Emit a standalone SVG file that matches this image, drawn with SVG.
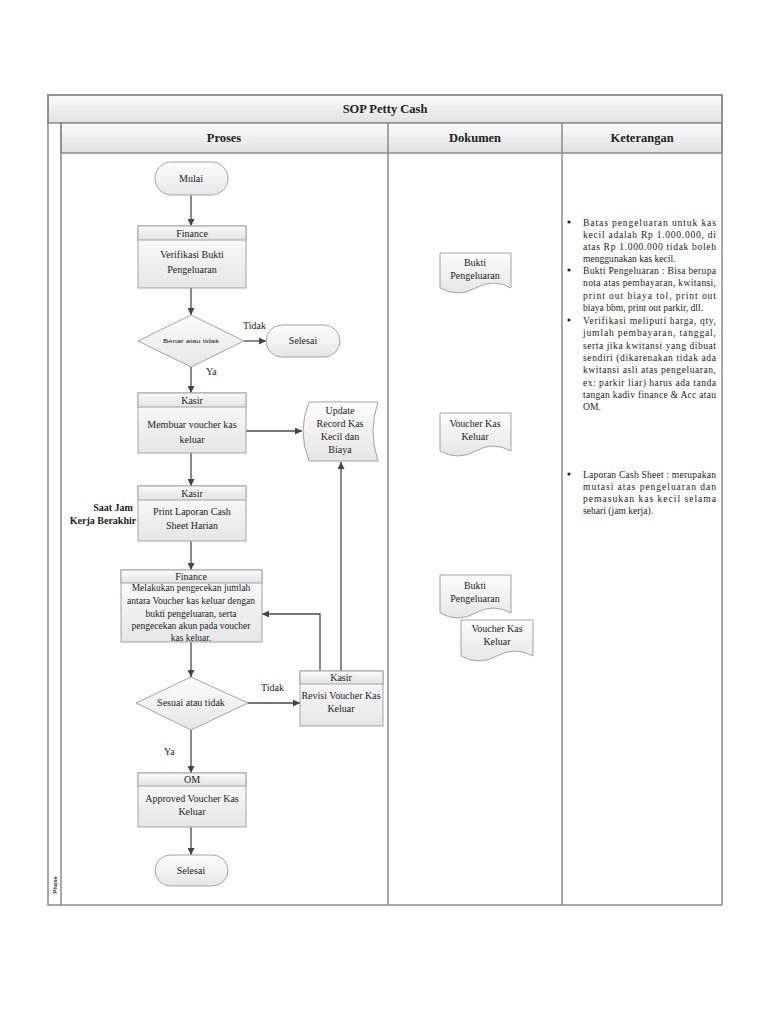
<svg xmlns="http://www.w3.org/2000/svg" width="768" height="1024" viewBox="0 0 768 1024">
<defs>
<linearGradient id="gBox" x1="0" y1="0" x2="0" y2="1"><stop offset="0" stop-color="#fdfdfd"/><stop offset="1" stop-color="#e6e6e6"/></linearGradient>
<linearGradient id="gHead" x1="0" y1="0" x2="0" y2="1"><stop offset="0" stop-color="#fafafa"/><stop offset="1" stop-color="#e4e4e4"/></linearGradient>
<linearGradient id="gBar" x1="0" y1="0" x2="0" y2="1"><stop offset="0" stop-color="#fbfbfb"/><stop offset="1" stop-color="#e2e2e2"/></linearGradient>
<marker id="arr" viewBox="0 0 10 10" refX="10" refY="5" markerWidth="7" markerHeight="7" markerUnits="userSpaceOnUse" orient="auto"><path d="M0,0 L10,5 L0,10 Z" fill="#444"/></marker>
</defs>
<style>
.frame{fill:none;stroke:#8a8a8a;stroke-width:1.5}
.bar{fill:url(#gBar);stroke:#8a8a8a;stroke-width:1.5}
.box{fill:url(#gBox);stroke:#a3a3a3;stroke-width:1}
.hd{fill:url(#gHead);stroke:#a3a3a3;stroke-width:1}
.term{fill:url(#gBox);stroke:#a3a3a3;stroke-width:1}
.con{fill:none;stroke:#4a4a4a;stroke-width:1.3;marker-end:url(#arr)}
.t{font-family:"Liberation Serif","Times New Roman",serif;font-size:10px;fill:#222;text-anchor:middle}
.s{font-size:9.5px}
.b{font-weight:bold}
.h{font-family:"Liberation Serif","Times New Roman",serif;font-size:12.5px;font-weight:bold;fill:#222;text-anchor:middle}
.k{font-family:"Liberation Serif","Times New Roman",serif;font-size:9.6px;fill:#222}
.lbl{font-family:"Liberation Serif","Times New Roman",serif;font-size:10px;fill:#222}
</style>
<rect width="768" height="1024" fill="#ffffff"/>

<g id="frame">
<rect class="bar" x="48" y="95" width="674" height="28"/>
<rect class="bar" x="61" y="123" width="661" height="30"/>
<rect class="frame" x="48" y="95" width="674" height="810"/>
<line class="frame" x1="61" y1="123" x2="61" y2="905"/>
<line class="frame" x1="388" y1="123" x2="388" y2="905"/>
<line class="frame" x1="562" y1="123" x2="562" y2="905"/>
<text class="h" x="385" y="113">SOP Petty Cash</text>
<text class="h" x="224" y="142">Proses</text>
<text class="h" x="475" y="142">Dokumen</text>
<text class="h" x="642" y="142">Keterangan</text>
<text transform="translate(57,885) rotate(-90)" font-family="Liberation Sans, Arial, sans-serif" font-size="6" font-weight="bold" fill="#333" text-anchor="middle">Phase</text>
</g>

<g id="connectors">
<line class="con" x1="191" y1="195" x2="191" y2="226"/>
<line class="con" x1="191" y1="288" x2="191" y2="315"/>
<line class="con" x1="244" y1="341" x2="266" y2="341"/>
<line class="con" x1="191" y1="367" x2="191" y2="393"/>
<line class="con" x1="246" y1="431" x2="302" y2="431"/>
<line class="con" x1="191" y1="453" x2="191" y2="486"/>
<line class="con" x1="191" y1="541" x2="191" y2="570"/>
<line class="con" x1="191" y1="642" x2="191" y2="677"/>
<line class="con" x1="248" y1="703" x2="300" y2="703"/>
<polyline class="con" points="320,671 320,614 262,614"/>
<line class="con" x1="341" y1="671" x2="341" y2="462"/>
<line class="con" x1="191" y1="730" x2="191" y2="773"/>
<line class="con" x1="191" y1="827" x2="191" y2="855"/>
<text class="lbl" x="243" y="329">Tidak</text>
<text class="lbl" x="206" y="375">Ya</text>
<text class="lbl" x="261" y="691">Tidak</text>
<text class="lbl" x="164" y="755">Ya</text>
</g>

<g id="mulai">
<rect class="term" x="155" y="162" width="73" height="33" rx="16.5"/>
<text class="t" x="191" y="182">Mulai</text>
</g>

<g id="verifikasi">
<rect class="box" x="138" y="226" width="108" height="62"/>
<rect class="hd" x="138" y="226" width="108" height="14"/>
<text class="t" x="192" y="237">Finance</text>
<text class="t" x="192" y="258">Verifikasi Bukti</text>
<text class="t" x="192" y="273">Pengeluaran</text>
</g>

<g id="benar">
<polygon class="box" points="191,315 244,341 191,367 138,341"/>
<text x="191" y="343" font-family="Liberation Sans, Arial, sans-serif" font-size="6" fill="#222" text-anchor="middle" textLength="56" lengthAdjust="spacingAndGlyphs">Benar atau tidak</text>
</g>

<g id="selesai1">
<rect class="term" x="266" y="325" width="74" height="32" rx="16"/>
<text class="t" x="303" y="344" font-size="9">Selesai</text>
</g>

<g id="membuat">
<rect class="box" x="138" y="393" width="108" height="60"/>
<rect class="hd" x="138" y="393" width="108" height="14"/>
<text class="t" x="192" y="404">Kasir</text>
<text class="t" x="192" y="428">Membuar voucher kas</text>
<text class="t" x="192" y="443">keluar</text>
</g>

<g id="update">
<path class="box" d="M309,402 H378 Q368,431 378,461 H309 Q297,431 309,402 Z"/>
<text class="t" x="340" y="414">Update</text>
<text class="t" x="340" y="427">Record Kas</text>
<text class="t" x="340" y="440">Kecil dan</text>
<text class="t" x="340" y="453">Biaya</text>
</g>

<g id="print">
<rect class="box" x="138" y="486" width="108" height="55"/>
<rect class="hd" x="138" y="486" width="108" height="14"/>
<text class="t" x="192" y="497">Kasir</text>
<text class="t" x="192" y="515">Print Laporan Cash</text>
<text class="t" x="192" y="529">Sheet Harian</text>
</g>

<g id="saatjam">
<text class="t b" x="113" y="511">Saat Jam</text>
<text class="t b" x="103" y="524">Kerja Berakhir</text>
</g>

<g id="pengecekan">
<rect class="box" x="121" y="570" width="141" height="72"/>
<text class="t s" x="191" y="591">Melakukan pengecekan jumlah</text>
<rect class="hd" x="121" y="570" width="141" height="13"/>
<text class="t" x="191" y="580">Finance</text>
<text class="t s" x="191" y="604">antara Voucher kas keluar dengan</text>
<text class="t s" x="191" y="616.5">bukti pengeluaran, serta</text>
<text class="t s" x="191" y="629">pengecekan akun pada voucher</text>
<text class="t s" x="191" y="640.5">kas keluar.</text>
</g>

<g id="sesuai">
<polygon class="box" points="191,677 248,703 191,730 136,703"/>
<text class="t" x="191" y="706">Sesuai atau tidak</text>
</g>

<g id="revisi">
<rect class="box" x="300" y="671" width="83" height="55"/>
<rect class="hd" x="300" y="671" width="83" height="13"/>
<text class="t" x="341" y="681">Kasir</text>
<text class="t" x="341" y="699">Revisi Voucher Kas</text>
<text class="t" x="341" y="712">Keluar</text>
</g>

<g id="approved">
<rect class="box" x="138" y="773" width="108" height="54"/>
<rect class="hd" x="138" y="773" width="108" height="13"/>
<text class="t" x="192" y="783">OM</text>
<text class="t" x="192" y="802">Approved Voucher Kas</text>
<text class="t" x="192" y="815">Keluar</text>
</g>

<g id="selesai2">
<rect class="term" x="155" y="855" width="73" height="31" rx="15.5"/>
<text class="t" x="191" y="874">Selesai</text>
</g>

<g id="doc-bukti1">
<path class="box" d="M440,253 H511 V288 Q493,278 475.5,288 Q458,298 440,288 Z"/>
<text class="t" x="475" y="266">Bukti</text>
<text class="t" x="475" y="279">Pengeluaran</text>
</g>

<g id="doc-voucher1">
<path class="box" d="M440,413 H511 V451 Q493,441 475.5,451 Q458,461 440,451 Z"/>
<text class="t" x="475" y="427">Voucher Kas</text>
<text class="t" x="475" y="440">Keluar</text>
</g>

<g id="doc-bukti2">
<path class="box" d="M440,575 H511 V613 Q493,603 475.5,613 Q458,623 440,613 Z"/>
<text class="t" x="475" y="589">Bukti</text>
<text class="t" x="475" y="602">Pengeluaran</text>
</g>

<g id="doc-voucher2">
<path class="box" d="M461,620 H533 V656 Q515,646 497,656 Q479,666 461,656 Z"/>
<text class="t" x="497" y="632">Voucher Kas</text>
<text class="t" x="497" y="645">Keluar</text>
</g>

<g id="keterangan">
<circle cx="569" cy="222" r="1.6" fill="#222"/>
<text class="k" x="583" y="225.5" textLength="133" lengthAdjust="spacing">Batas pengeluaran untuk kas</text>
<text class="k" x="583" y="237.5" textLength="133" lengthAdjust="spacing">kecil adalah Rp 1.000.000, di</text>
<text class="k" x="583" y="249.5" textLength="133" lengthAdjust="spacing">atas Rp 1.000.000 tidak boleh</text>
<text class="k" x="583" y="261.5">menggunakan kas kecil.</text>
<circle cx="569" cy="270" r="1.6" fill="#222"/>
<text class="k" x="583" y="273.5" textLength="133" lengthAdjust="spacing">Bukti Pengeluaran : Bisa berupa</text>
<text class="k" x="583" y="286" textLength="133" lengthAdjust="spacing">nota atas pembayaran, kwitansi,</text>
<text class="k" x="583" y="298.5" textLength="133" lengthAdjust="spacing">print out biaya tol, print out</text>
<text class="k" x="583" y="311">biaya bbm, print out parkir, dll.</text>
<circle cx="569" cy="320" r="1.6" fill="#222"/>
<text class="k" x="583" y="323.5" textLength="133" lengthAdjust="spacing">Verifikasi meliputi harga, qty,</text>
<text class="k" x="583" y="336" textLength="133" lengthAdjust="spacing">jumlah pembayaran, tanggal,</text>
<text class="k" x="583" y="348.5" textLength="133" lengthAdjust="spacing">serta jika kwitansi yang dibuat</text>
<text class="k" x="583" y="361" textLength="133" lengthAdjust="spacing">sendiri (dikarenakan tidak ada</text>
<text class="k" x="583" y="373" textLength="133" lengthAdjust="spacing">kwitansi asli atas pengeluaran,</text>
<text class="k" x="583" y="385.5" textLength="133" lengthAdjust="spacing">ex: parkir liar) harus ada tanda</text>
<text class="k" x="583" y="397.5" textLength="133" lengthAdjust="spacing">tangan kadiv finance &amp; Acc atau</text>
<text class="k" x="583" y="409.5">OM.</text>
<circle cx="569" cy="474" r="1.6" fill="#222"/>
<text class="k" x="583" y="477.5" textLength="133" lengthAdjust="spacing">Laporan Cash Sheet : merupakan</text>
<text class="k" x="583" y="489.5" textLength="133" lengthAdjust="spacing">mutasi atas pengeluaran dan</text>
<text class="k" x="583" y="502" textLength="133" lengthAdjust="spacing">pemasukan kas kecil selama</text>
<text class="k" x="583" y="514">sehari (jam kerja).</text>
</g>
</svg>
